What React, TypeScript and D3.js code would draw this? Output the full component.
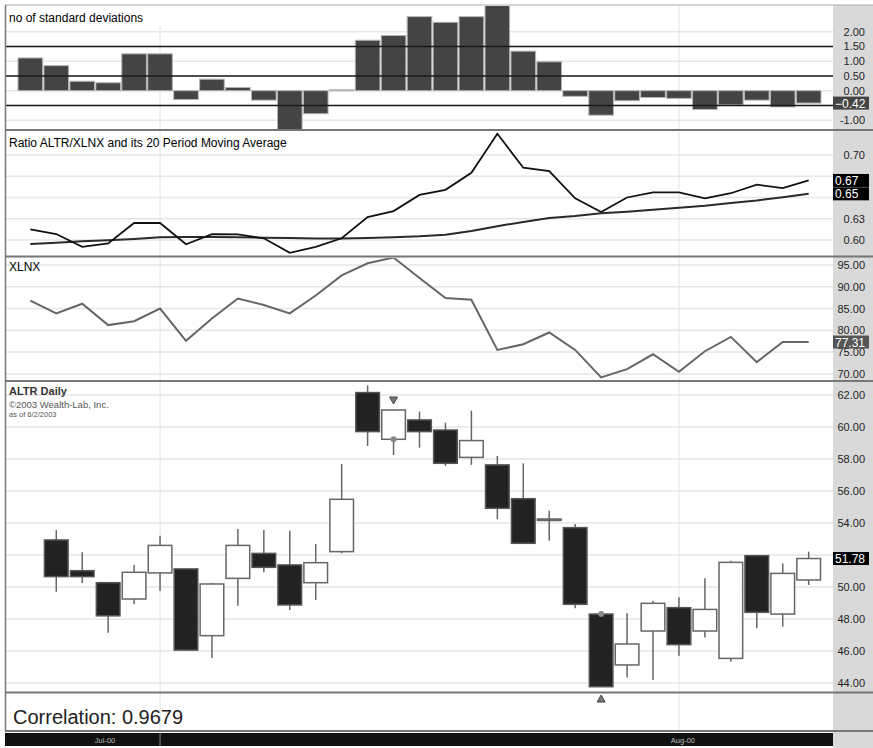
import React, { useEffect, useRef } from 'react';
import * as d3 from 'd3';

// trading days, Jun 26 – Aug 8 2000
const dates = ['2000-06-26', '2000-06-27', '2000-06-28', '2000-06-29', '2000-06-30',
  '2000-07-03', '2000-07-05', '2000-07-06', '2000-07-07', '2000-07-10', '2000-07-11',
  '2000-07-12', '2000-07-13', '2000-07-14', '2000-07-17', '2000-07-18', '2000-07-19',
  '2000-07-20', '2000-07-21', '2000-07-24', '2000-07-25', '2000-07-26', '2000-07-27',
  '2000-07-28', '2000-07-31', '2000-08-01', '2000-08-02', '2000-08-03', '2000-08-04',
  '2000-08-07', '2000-08-08'];

const stdDevs = [1.11, 0.85, 0.32, 0.27, 1.25, 1.25, -0.30, 0.39, 0.11, -0.32, -1.37, -0.78, 0.03,
  1.71, 1.87, 2.51, 2.32, 2.51, 2.93, 1.34, 0.98, -0.19, -0.83, -0.34, -0.23, -0.26, -0.64,
  -0.48, -0.32, -0.55, -0.42];
const sigmaLevels = [1.5, 0.5, -0.5];

const ratio = [0.6124, 0.607, 0.592, 0.596, 0.620, 0.620, 0.595, 0.607, 0.6066, 0.602, 0.585,
  0.592, 0.602, 0.627, 0.634, 0.653, 0.659, 0.679, 0.725, 0.685, 0.681, 0.649, 0.633, 0.650,
  0.656, 0.656, 0.649, 0.655, 0.665, 0.661, 0.670];
const ratioMA = [0.5953, 0.5969, 0.5984, 0.5996, 0.6012, 0.6031, 0.6035, 0.6035, 0.6031, 0.6027,
  0.6023, 0.6019, 0.6019, 0.6023, 0.6031, 0.6043, 0.6062, 0.6105, 0.6163, 0.6213, 0.626, 0.6283,
  0.6314, 0.6333, 0.6357, 0.638, 0.6403, 0.6434, 0.6465, 0.6504, 0.6543];

const xlnx = [86.8, 83.9, 86.1, 81.2, 82.1, 85.0, 77.6, 82.7, 87.3, 85.8, 83.9, 88.0, 92.6, 95.4,
  96.7, 92.0, 87.4, 87.0, 75.5, 76.8, 79.5, 75.5, 69.2, 71.1, 74.5, 70.5, 75.2, 78.5, 72.7,
  77.31, 77.31];

const altrOpen = [null, 52.94, 51.02, 50.27, 49.25, 50.88, 51.13, 46.96, 50.54, 52.10, 51.38, 50.27,
  52.21, 62.15, 59.23, 60.44, 59.81, 58.10, 57.63, 55.52, 54.25, 53.71, 48.31, 45.13, 47.25, 48.71,
  47.25, 45.54, 51.96, 48.31, 50.44];
const altrHigh = [null, 53.56, 52.17, 50.27, 51.38, 53.20, 51.13, 50.25, 53.63, 53.56, 53.52, 52.69,
  57.69, 62.60, 61.10, 60.96, 60.27, 61.02, 58.19, 57.73, 54.77, 53.94, 48.46, 48.36, 49.14, 49.36,
  50.54, 51.64, 51.96, 51.48, 52.21];
const altrLow = [null, 49.70, 50.23, 47.14, 48.92, 49.77, 46.00, 45.56, 48.83, 50.92, 48.56, 49.19,
  52.10, 58.81, 58.25, 58.71, 57.56, 57.63, 54.23, 52.73, 52.89, 48.67, 43.77, 44.35, 44.19, 45.71,
  46.85, 45.33, 47.42, 47.52, 50.13];
const altrClose = [null, 50.65, 50.65, 48.20, 50.92, 52.60, 46.06, 50.19, 52.60, 51.23, 48.88, 51.52,
  55.48, 59.71, 61.06, 59.71, 57.73, 59.15, 54.92, 52.73, 54.25, 48.92, 43.77, 46.44, 48.98, 46.40,
  48.60, 51.54, 48.42, 50.85, 51.78];

const sellSignals = [14];
const buySignals = [22];
const correlation = 0.9679;

const FONT = '"Liberation Sans", Arial, sans-serif';

export default function App() {
  const svgRef = useRef<SVGSVGElement>(null);

  useEffect(() => {
    if (!svgRef.current) return;
    const svg = d3.select(svgRef.current);
    svg.selectAll('*').remove();

    const plotL = 5, plotR = 833;
    const x = d3.scaleBand<number>().domain(d3.range(dates.length)).range([18, 821]).paddingInner(0.05);
    const cx = (i: number) => (x(i) as number) + x.bandwidth() / 2;
    const parse = d3.timeParse('%Y-%m-%d');
    const monthStarts = dates
      .map((d, i) => ({ d: parse(d) as Date, i }))
      .filter((o, k, arr) => k > 0 && o.d.getMonth() !== arr[k - 1].d.getMonth());

    svg.append('rect').attr('width', 873).attr('height', 748).attr('fill', '#fff');
    svg.append('rect').attr('x', plotR).attr('y', 5).attr('width', 873 - plotR).attr('height', 743).attr('fill', '#d9d9d9');

    let clipN = 0;
    const panel = (top: number, bottom: number, y: d3.ScaleLinear<number, number>, ticks: number[],
      fmt: (v: number) => string, boxed: number[]) => {
      const g = svg.append('g');
      g.selectAll('line.grid').data(ticks).join('line')
        .attr('x1', plotL).attr('x2', plotR)
        .attr('y1', d => y(d)).attr('y2', d => y(d))
        .attr('stroke', '#e6e6e6').attr('stroke-width', 1.5);
      g.selectAll('line.month').data(monthStarts).join('line')
        .attr('x1', d => cx(d.i)).attr('x2', d => cx(d.i))
        .attr('y1', top).attr('y2', bottom)
        .attr('stroke', '#e2e2e2').attr('stroke-width', 1);
      // labels under a value box are left out
      const shown = ticks.filter(t => boxed.every(b => Math.abs(y(t) - y(b)) > 12));
      g.selectAll('text.tick').data(shown).join('text')
        .attr('x', 865).attr('y', d => y(d) + 4)
        .attr('text-anchor', 'end')
        .attr('font-family', FONT).attr('font-size', 11).attr('fill', '#222')
        .text(d => fmt(d));
      const id = `clip${clipN++}`;
      svg.append('clipPath').attr('id', id).append('rect')
        .attr('x', plotL).attr('y', top).attr('width', plotR - plotL).attr('height', bottom - top);
      return svg.append('g').attr('clip-path', `url(#${id})`);
    };

    const valueBox = (yPos: number, label: string, fill: string) => {
      svg.append('rect').attr('x', plotR).attr('y', yPos - 6.5).attr('width', 36).attr('height', 13).attr('fill', fill);
      svg.append('text').attr('x', plotR + 2).attr('y', yPos + 4.5)
        .attr('font-family', FONT).attr('font-size', 12).attr('fill', '#fff').text(label);
    };

    const title = (tx: number, ty: number, label: string) =>
      svg.append('text').attr('x', tx).attr('y', ty)
        .attr('font-family', FONT).attr('font-size', 12).attr('fill', '#000').text(label);

    // --- std dev histogram
    const lastSd = stdDevs[stdDevs.length - 1];
    const y1 = d3.scaleLinear().domain([-1.332, 2.871]).range([130, 6]);
    const p1 = panel(6, 130, y1, d3.range(-1, 2.01, 0.5), d => d.toFixed(2), [lastSd]);
    p1.selectAll('rect').data(stdDevs).join('rect')
      .attr('x', (_, i) => x(i) as number).attr('width', x.bandwidth())
      .attr('y', d => y1(Math.max(0, d))).attr('height', d => Math.max(1, Math.abs(y1(d) - y1(0))))
      .attr('fill', '#444').attr('stroke', '#b5b5b5').attr('stroke-width', 1);
    p1.selectAll('line.sig').data(sigmaLevels).join('line')
      .attr('x1', plotL).attr('x2', plotR).attr('y1', d => y1(d)).attr('y2', d => y1(d))
      .attr('stroke', '#1a1a1a').attr('stroke-width', 1.6);
    svg.append('rect').attr('x', 6).attr('y', 7).attr('width', 158).attr('height', 19).attr('fill', '#fff');
    title(9, 22, 'no of standard deviations');
    valueBox(y1(lastSd), lastSd.toFixed(2).replace('-', '\u2212'), '#444');

    // --- ratio and moving average
    const lastRatio = ratio[ratio.length - 1];
    const lastMA = ratioMA[ratioMA.length - 1];
    const y2 = d3.scaleLinear().domain([0.5812, 0.727]).range([256, 132]);
    const p2 = panel(132, 256, y2, [0.6, 0.625, 0.65, 0.675, 0.7], d => d.toFixed(2), [lastRatio, lastMA]);
    const line2 = d3.line<number>().x((_, i) => cx(i)).y(d => y2(d));
    p2.append('path').datum(ratioMA).attr('d', line2).attr('fill', 'none').attr('stroke', '#2a2a2a').attr('stroke-width', 2);
    p2.append('path').datum(ratio).attr('d', line2).attr('fill', 'none').attr('stroke', '#111').attr('stroke-width', 1.8);
    title(9, 147, 'Ratio ALTR/XLNX and its 20 Period Moving Average');
    valueBox(y2(lastRatio), lastRatio.toFixed(2), '#000');
    valueBox(y2(lastMA), lastMA.toFixed(2), '#000');

    // --- XLNX close
    const lastX = xlnx[xlnx.length - 1];
    const y3 = d3.scaleLinear().domain([68.6, 96.6]).range([380, 258]);
    const p3 = panel(258, 380, y3, d3.range(70, 96, 5), d => d.toFixed(2), []);
    p3.append('path').datum(xlnx)
      .attr('d', d3.line<number>().x((_, i) => cx(i)).y(d => y3(d)))
      .attr('fill', 'none').attr('stroke', '#666').attr('stroke-width', 2);
    title(9, 271, 'XLNX');
    valueBox(y3(lastX), lastX.toFixed(2), '#555');

    // --- ALTR candles
    const lastC = altrClose[altrClose.length - 1] as number;
    const y4 = d3.scaleLinear().domain([43.44, 62.81]).range([692, 382]);
    const p4 = panel(382, 692, y4, d3.range(44, 63, 2), d => d.toFixed(2), [lastC]);
    const idx = d3.range(dates.length).filter(i => altrOpen[i] != null);
    p4.selectAll('line.wick').data(idx).join('line')
      .attr('x1', cx).attr('x2', cx)
      .attr('y1', i => y4(altrHigh[i] as number)).attr('y2', i => y4(altrLow[i] as number))
      .attr('stroke', '#666').attr('stroke-width', 1.5);
    p4.selectAll('rect.body').data(idx).join('rect')
      .attr('x', i => (x(i) as number) + 0.5).attr('width', x.bandwidth() - 1)
      .attr('y', i => y4(Math.max(altrOpen[i] as number, altrClose[i] as number)))
      .attr('height', i => Math.max(1.5, Math.abs(y4(altrOpen[i] as number) - y4(altrClose[i] as number))))
      .attr('fill', i => (altrClose[i] as number) < (altrOpen[i] as number) ? '#222' : (altrClose[i] === altrOpen[i] ? '#777' : '#fff'))
      .attr('stroke', i => (altrClose[i] as number) < (altrOpen[i] as number) ? '#555' : '#666')
      .attr('stroke-width', 1.5);
    // trade signals
    p4.selectAll('path.sell').data(sellSignals).join('path')
      .attr('transform', i => `translate(${cx(i)},${y4(altrHigh[i] as number) - 10}) rotate(180)`)
      .attr('d', d3.symbol(d3.symbolTriangle, 28)).attr('fill', '#777').attr('stroke', '#444');
    p4.selectAll('circle.sell').data(sellSignals).join('circle')
      .attr('cx', cx).attr('cy', i => y4(altrOpen[i] as number)).attr('r', 3).attr('fill', '#888');
    p4.selectAll('circle.buy').data(buySignals).join('circle')
      .attr('cx', cx).attr('cy', i => y4(altrOpen[i] as number)).attr('r', 3).attr('fill', '#888');
    svg.selectAll('path.buy').data(buySignals).join('path')
      .attr('transform', i => `translate(${cx(i)},${y4(altrLow[i] as number) + 13})`)
      .attr('d', d3.symbol(d3.symbolTriangle, 28)).attr('fill', '#777').attr('stroke', '#444');
    valueBox(y4(lastC), lastC.toFixed(2), '#000');
    svg.append('text').attr('x', 9).attr('y', 395).attr('font-family', FONT).attr('font-weight', 'bold')
      .attr('font-size', 11).attr('fill', '#333').text('ALTR Daily');
    svg.append('text').attr('x', 9).attr('y', 408).attr('font-family', FONT)
      .attr('font-size', 9.5).attr('fill', '#555').text('\u00a92003 Wealth-Lab, Inc.');
    svg.append('text').attr('x', 9).attr('y', 417).attr('font-family', FONT)
      .attr('font-size', 7.5).attr('fill', '#555').text('as of 6/2/2003');

    // --- correlation
    svg.selectAll('line.cmonth').data(monthStarts).join('line')
      .attr('x1', d => cx(d.i)).attr('x2', d => cx(d.i))
      .attr('y1', 693).attr('y2', 731).attr('stroke', '#e2e2e2');
    svg.append('text').attr('x', 13).attr('y', 724).attr('font-family', FONT)
      .attr('font-size', 20).attr('fill', '#222').text(`Correlation: ${correlation.toFixed(4)}`);

    // panel borders
    [130, 256.5, 381, 692.5, 731].forEach(yy => {
      svg.append('line').attr('x1', plotL).attr('x2', 873).attr('y1', yy).attr('y2', yy)
        .attr('stroke', '#777').attr('stroke-width', 2);
    });
    svg.append('line').attr('x1', plotL).attr('x2', 873).attr('y1', 5).attr('y2', 5).attr('stroke', '#aaa').attr('stroke-width', 1);
    svg.append('line').attr('x1', 5.5).attr('x2', 5.5).attr('y1', 5).attr('y2', 731).attr('stroke', '#777').attr('stroke-width', 1.5);

    // date axis
    svg.append('rect').attr('x', plotL).attr('y', 733).attr('width', plotR - plotL).attr('height', 13).attr('fill', '#111');
    const fmtMonth = d3.timeFormat('%b-%y');
    svg.selectAll('line.dsep').data(monthStarts.slice(0, 1)).join('line')
      .attr('x1', d => cx(d.i)).attr('x2', d => cx(d.i))
      .attr('y1', 733).attr('y2', 746).attr('stroke', '#888');
    svg.selectAll('text.month').data(monthStarts).join('text')
      .attr('x', (d, k) => k === 0 ? cx(d.i) - 55 : cx(d.i) + 4)
      .attr('y', 743).attr('text-anchor', 'middle')
      .attr('font-family', FONT).attr('font-size', 7.5).attr('fill', '#bbb')
      .text(d => fmtMonth(d.d));
  }, []);

  return (
    <div style={{ width: 873, height: 748 }}>
      <style>{'body{margin:0}'}</style>
      <svg ref={svgRef} width={873} height={748} style={{ display: 'block' }} />
    </div>
  );
}
